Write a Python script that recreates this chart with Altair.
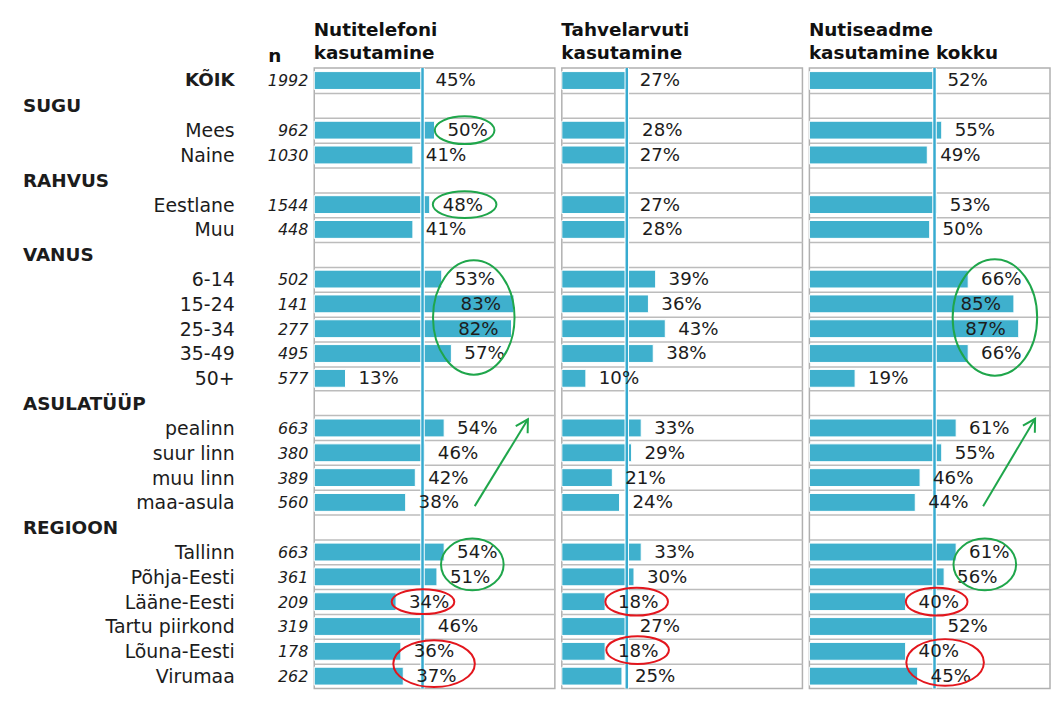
import altair as alt
import pandas as pd

# ---------------- data ----------------
rows = ["KÕIK", "SUGU", "Mees", "Naine", "RAHVUS", "Eestlane", "Muu", "VANUS",
        "6-14", "15-24", "25-34", "35-49", "50+", "ASULATÜÜP", "pealinn",
        "suur linn", "muu linn", "maa-asula", "REGIOON", "Tallinn",
        "Põhja-Eesti", "Lääne-Eesti", "Tartu piirkond", "Lõuna-Eesti", "Virumaa"]
kinds = ["total", "group", "item", "item", "group", "item", "item", "group",
         "item", "item", "item", "item", "item", "group", "item", "item",
         "item", "item", "group", "item", "item", "item", "item", "item", "item"]
n_vals = [1992, None, 962, 1030, None, 1544, 448, None, 502, 141, 277, 495, 577,
          None, 663, 380, 389, 560, None, 663, 361, 209, 319, 178, 262]
smartphone = [45, None, 50, 41, None, 48, 41, None, 53, 83, 82, 57, 13, None,
              54, 46, 42, 38, None, 54, 51, 34, 46, 36, 37]
tablet = [27, None, 28, 27, None, 27, 28, None, 39, 36, 43, 38, 10, None,
          33, 29, 21, 24, None, 33, 30, 18, 27, 18, 25]
any_device = [52, None, 55, 49, None, 53, 50, None, 66, 85, 87, 66, 19, None,
              61, 55, 46, 44, None, 61, 56, 40, 52, 40, 45]
panel_titles = [["Nutitelefoni", "kasutamine"],
                ["Tahvelarvuti", "kasutamine"],
                ["Nutiseadme", "kasutamine kokku"]]
series = [smartphone, tablet, any_device]

# annotations (panel, x in %, row position, width px, height px, colour)
GREEN = "#1fa64b"
RED = "#e3161d"
ell_panel = [0, 0, 0, 0, 0, 0, 1, 1, 2, 2, 2, 2]
ell_x = [62.5, 62.5, 66.3, 65.7, 45.2, 49.8, 31.1, 31.5, 77.1, 72.9, 52.9, 56.4]
ell_row = [2.0, 5.0, 9.55, 19.5, 21.0, 23.5, 21.0, 22.95, 9.55, 19.5, 21.0, 23.45]
ell_w = [60, 64, 82, 63, 63, 82, 63, 63, 85, 63, 62, 78]
ell_h = [28, 27, 115, 52, 25, 47, 28, 28, 117, 52, 28, 47]
ell_col = [GREEN, GREEN, GREEN, GREEN, RED, RED, RED, RED, GREEN, GREEN, RED, RED]

arr_panel = [0, 2]
arr_x0 = [66.7, 72.2]
arr_row0 = [17.15, 17.15]
arr_x1 = [88.8, 93.8]
arr_row1 = [13.65, 13.63]

# ---------------- styling ----------------
FONT = "DejaVu Sans"
BAR = "#3fb0cd"
LINE = "#37abd0"
TXT = "#1c1c1c"
GRID = "#bcbcbc"
PW, PH = 242, 624
LW = 301

base = pd.DataFrame({"row": list(range(len(rows))), "label": rows,
                     "kind": kinds, "n": n_vals})
base["ntxt"] = [("" if v is None else str(v)) for v in n_vals]

ys = alt.Scale(domain=[-0.5, len(rows) - 0.5], reverse=True, nice=False, zero=False)
xs = alt.Scale(domain=[0, 100], nice=False, zero=True)

# ---------------- label column ----------------
lab_df = base.copy()
items = alt.Chart(lab_df).transform_filter("datum.kind == 'item'").mark_text(
    align="right", baseline="middle", font=FONT, fontSize=19, color=TXT, dy=1
).encode(x=alt.value(228), y=alt.Y("row:Q", scale=ys, axis=None), text="label:N")
tot = alt.Chart(lab_df).transform_filter("datum.kind == 'total'").mark_text(
    align="right", baseline="middle", font=FONT, fontSize=18.3, fontWeight="bold", color=TXT, dy=1
).encode(x=alt.value(228), y=alt.Y("row:Q", scale=ys, axis=None), text="label:N")
grp = alt.Chart(lab_df).transform_filter("datum.kind == 'group'").mark_text(
    align="left", baseline="middle", font=FONT, fontSize=18.5, fontWeight="bold", color=TXT, dy=1
).encode(x=alt.value(15), y=alt.Y("row:Q", scale=ys, axis=None), text="label:N")
ncol = alt.Chart(lab_df).transform_filter("datum.kind != 'group'").mark_text(
    align="right", baseline="middle", font=FONT, fontSize=16, fontStyle="italic", color=TXT, dy=1
).encode(x=alt.value(302), y=alt.Y("row:Q", scale=ys, axis=None), text="ntxt:N")

label_chart = alt.layer(items, tot, grp, ncol).properties(
    width=LW, height=PH,
    title=alt.TitleParams([" ", "n"], anchor="end", dx=-27),
    view=alt.ViewBackground(stroke=None),
)

# ---------------- panels ----------------
grid_axis = alt.Axis(values=[i + 0.5 for i in range(len(rows) - 1)], grid=True,
                     labels=False, ticks=False, domain=False, title=None,
                     gridColor=GRID, gridWidth=1.5)


def Y(field):
    return alt.Y(field, scale=ys, axis=grid_axis)


def X(field):
    return alt.X(field, scale=xs, axis=None)


def make_panel(p):
    vals = series[p]
    df = base.copy()
    df["v"] = vals
    df = df[df["v"].notna()].copy()
    df["v"] = df["v"].astype(int)
    df["pct"] = df["v"].astype(str) + "%"
    ref = df[df["kind"] == "total"]

    bars = alt.Chart(df).transform_calculate(
        y0="datum.row - 0.36", y1="datum.row + 0.36"
    ).mark_rect(color=BAR, stroke="white", strokeWidth=1).encode(
        x=X("v:Q"), x2=alt.datum(0), y=Y("y0:Q"), y2="y1:Q",
    )
    ref_white = alt.Chart(ref).mark_rule(color="white", strokeWidth=4.5).encode(x=X("v:Q"))
    ref_line = alt.Chart(ref).mark_rule(color=LINE, strokeWidth=2.5).encode(x=X("v:Q"))
    lab_out = alt.Chart(df).transform_filter("datum.v < 75").mark_text(
        align="left", baseline="middle", dx=13, dy=1, font=FONT, fontSize=18.3, color=TXT
    ).encode(x=X("v:Q"), y=Y("row:Q"), text="pct:N")
    lab_in = alt.Chart(df).transform_filter("datum.v >= 75").mark_text(
        align="right", baseline="middle", dx=-13, dy=1, font=FONT, fontSize=18.3, color=TXT
    ).encode(x=X("v:Q"), y=Y("row:Q"), text="pct:N")

    layers = [bars, ref_white, ref_line, lab_out, lab_in]

    e = pd.DataFrame({"panel": ell_panel, "x": ell_x, "row": ell_row,
                      "w": ell_w, "h": ell_h, "color": ell_col})
    e = e[e["panel"] == p].copy()
    if len(e):
        e["shape"] = ["M-1,0A1,%.4f 0 1,1 1,0A1,%.4f 0 1,1 -1,0Z" % (hh / ww, hh / ww)
                      for ww, hh in zip(e["w"], e["h"])]
        e["size"] = e["w"] ** 2
        layers.append(alt.Chart(e).mark_point(filled=False, strokeWidth=2, opacity=1).encode(
            x=X("x:Q"), y=Y("row:Q"),
            shape=alt.Shape("shape:N", scale=None),
            size=alt.Size("size:Q", scale=None),
            color=alt.Color("color:N", scale=None),
        ))

    a = pd.DataFrame({"panel": arr_panel, "x0": arr_x0, "r0": arr_row0,
                      "x1": arr_x1, "r1": arr_row1})
    a = a[a["panel"] == p]
    if len(a):
        layers.append(alt.Chart(a).mark_rule(color=GREEN, strokeWidth=2).encode(
            x=X("x0:Q"), x2="x1:Q", y=Y("r0:Q"), y2="r1:Q"))
        layers.append(alt.Chart(a).mark_point(
            shape="M-0.5,0.866L0,0L0.5,0.866", size=784, angle=31, filled=False,
            strokeWidth=2, color=GREEN, opacity=1
        ).encode(x=X("x1:Q"), y=Y("r1:Q")))

    return alt.layer(*layers).properties(
        width=PW, height=PH,
        title=alt.TitleParams(panel_titles[p], anchor="start"),
        view=alt.ViewBackground(stroke="#b0b0b0", strokeWidth=1.5),
    )


chart = alt.hconcat(label_chart, make_panel(0), make_panel(1), make_panel(2),
                    spacing=7, bounds="flush").properties(
    padding={"left": 0, "top": 10.5, "right": 0, "bottom": -5}
).configure_title(
    font=FONT, fontSize=18.5, fontWeight="bold", color="#111111",
    lineHeight=23.5, baseline="alphabetic", offset=3
)

chart.save("out.html", embed_options={"renderer": "svg", "actions": False})
